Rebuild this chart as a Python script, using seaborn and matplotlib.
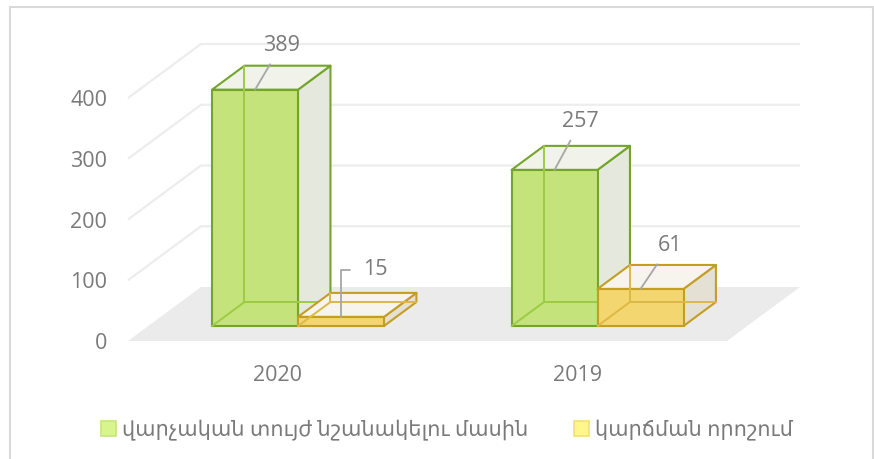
import matplotlib
matplotlib.use("Agg")
import matplotlib.pyplot as plt
import numpy as np
import pandas as pd
import seaborn as sns
from matplotlib.patches import Polygon, Rectangle
from matplotlib.transforms import Affine2D

# ---- data ----
years = ["2020", "2019"]
series = ["վարչական տույժ նշանակելու մասին", "կարճման որոշում"]
penalty = [389, 257]
dismissal = [15, 61]
y_ticks = [0, 100, 200, 300, 400]

df = pd.DataFrame({
    "year": years * 2,
    "series": [series[0]] * len(years) + [series[1]] * len(years),
    "value": penalty + dismissal,
})

sns.set_theme(style="white")
plt.rcParams["font.family"] = ["Open Sans", "DejaVu Sans"]

GREY = "#7a7a7a"
W, H = 874, 459
fig = plt.figure(figsize=(W / 100, H / 100), dpi=100)
# axes = front edge of the floor (x) and the front value plane (y)
ax = fig.add_axes([128 / W, 1 - 341 / H, 599 / W, 243 / H])
ax.set_facecolor("none")

# oblique depth vector (full floor depth) in data units
DX, DY = 73 / 299.5, 54 / 243 * 400
F0, F1 = 0.278, 0.722  # depth of the bars' front and back faces

styles = {
    series[0]: dict(front="#c4e37a", side="#e5e9dd", top="#f1f3ea",
                    edge="#74a52a", hidden="#9dcb45", legend="#d8f48c", legend_edge="#c8e67c"),
    series[1]: dict(front="#f4d670", side="#e4e1d4", top="#f6f4ed",
                    edge="#c49d25", hidden="#dcb945", legend="#fff68c", legend_edge="#f3df78"),
}

sns.barplot(data=df, x="year", y="value", hue="series", order=years,
            hue_order=series, palette={k: v["front"] for k, v in styles.items()},
            width=0.574, saturation=1, errorbar=None, ax=ax)
bars = [p for p in ax.patches if p.get_height() > 0]

ax.set_xlim(-0.5, len(years) - 0.5)
ax.set_ylim(0, 400)
x_lo, x_hi = ax.get_xlim()

# floor and back-wall gridlines
ax.add_patch(Polygon([(x_lo, 0), (x_hi, 0), (x_hi + DX, DY), (x_lo + DX, DY)],
                     closed=True, facecolor="#ebebeb", edgecolor="none", zorder=1,
                     clip_on=False))
for v in y_ticks[1:]:
    ax.plot([x_lo, x_lo + DX, x_hi + DX], [v, v + DY, v + DY], color="#ededed",
            lw=1.6, zorder=0.5, clip_on=False, solid_capstyle="butt")


def off(pt, f):
    return (pt[0] + f * DX, pt[1] + f * DY)


label_offsets = {389: (26, -44), 257: (26, -48), 15: (34, -47), 61: (29, -43)}
front_map = {v["front"]: k for k, v in styles.items()}

for i, p in enumerate(bars):
    x0, w, h = p.get_x(), p.get_width(), p.get_height()
    hexcol = matplotlib.colors.to_hex(p.get_facecolor())
    name = front_map.get(hexcol, series[0] if i < len(years) else series[1])
    st = styles[name]
    z = 10 + 10 * i

    # right side and top faces
    side = [off((x0 + w, 0), F0), off((x0 + w, h), F0), off((x0 + w, h), F1), off((x0 + w, 0), F1)]
    top = [off((x0, h), F0), off((x0 + w, h), F0), off((x0 + w, h), F1), off((x0, h), F1)]
    for poly, col in ((side, st["side"]), (top, st["top"])):
        ax.add_patch(Polygon(poly, closed=True, facecolor=col, edgecolor=st["edge"],
                             lw=1.5, joinstyle="round", zorder=z + 1, clip_on=False))

    # front face: the seaborn bar moved back to its depth position
    p.set_transform(Affine2D().translate(F0 * DX, F0 * DY) + ax.transData)
    p.set_facecolor(st["front"])
    p.set_edgecolor(st["edge"])
    p.set_linewidth(1.5)
    p.set_zorder(z + 3)
    p.set_clip_on(False)

    # edges seen through the transparent faces
    for a, b in ((off((x0, 0), F1), off((x0, h), F1)),
                 (off((x0, 0), F1), off((x0 + w, 0), F1)),
                 (off((x0, 0), F0), off((x0, 0), F1))):
        ax.plot([a[0], b[0]], [a[1], b[1]], color=st["hidden"], lw=1.4,
                zorder=z + 4, clip_on=False)

    # value label with leader line
    val = int(round(h))
    dxp, dyp = label_offsets.get(val, (26, -45))
    arrow = dict(arrowstyle="-", color="#a6a6a6", lw=1.3, shrinkA=4, shrinkB=0)
    if val == 15:
        arrow.update(connectionstyle="angle,angleA=0,angleB=90,rad=0",
                     relpos=(0, 0.5), shrinkA=7)
    ax.annotate(f"{val}", xy=off((x0 + w / 2, h), F0), xycoords="data",
                xytext=(dxp * 0.72, -dyp * 0.72), textcoords="offset points",
                ha="center", va="center", fontsize=15.5, color=GREY,
                arrowprops=arrow, zorder=200, annotation_clip=False)

# axes styling
sns.despine(ax=ax, left=True, bottom=True)
ax.set_yticks(y_ticks)
ax.set_xlabel("")
ax.set_ylabel("")
ax.tick_params(axis="y", length=0, pad=15, labelsize=15.5, labelcolor=GREY)
ax.tick_params(axis="x", length=0, pad=17, labelsize=15.5, labelcolor=GREY)
ax.grid(False)

# legend
sns.move_legend(ax, "center", bbox_to_anchor=(447 / W, 1 - 430 / H),
                bbox_transform=fig.transFigure, ncol=2, frameon=False, title=None,
                fontsize=15, labelcolor=GREY, handlelength=0.72, handleheight=0.75,
                handletextpad=0.3, columnspacing=2.2)
leg = ax.get_legend()
for hnd, name in zip(leg.legend_handles, series):
    hnd.set_facecolor(styles[name]["legend"])
    hnd.set_edgecolor(styles[name]["legend_edge"])
    hnd.set_linewidth(1.2)

# chart frame
fig.add_artist(Rectangle((10 / W, -0.05), (873 - 10) / W, (459 - 7) / H + 0.05,
                         transform=fig.transFigure, fill=False,
                         edgecolor="#d9d9d9", lw=1.5))

fig.savefig("out.png", dpi=100)
